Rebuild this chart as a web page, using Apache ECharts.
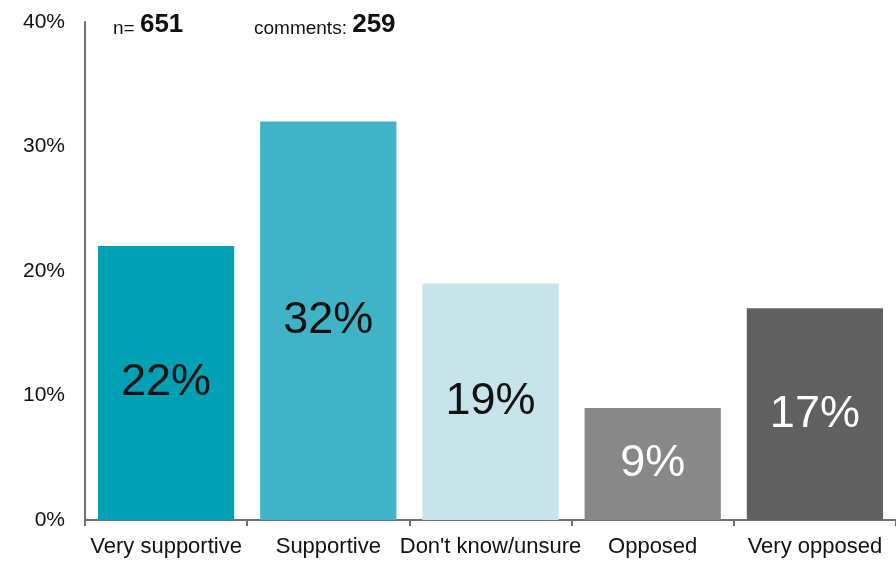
<!DOCTYPE html>
<html>
<head>
<meta charset="utf-8">
<script src="https://cdn.jsdelivr.net/npm/echarts@6/dist/echarts.min.js"></script>
<style>
  html, body { margin: 0; padding: 0; background: #fff; }
  #chart { width: 896px; height: 566px; }
</style>
</head>
<body>
<div id="chart"></div>
<script>
// Survey responses: share of respondents per answer
const categories = ['Very supportive', 'Supportive', "Don't know/unsure", 'Opposed', 'Very opposed'];
const shares = [22, 32, 19, 9, 17];
const barColors = ['#00a0b4', '#40b4c6', '#c6e4ea', '#888888', '#606060'];
const labelColors = ['#111111', '#111111', '#111111', '#ffffff', '#ffffff'];
const yTicks = [0, 10, 20, 30, 40];
const sampleSize = 651;
const commentCount = 259;

const font = '"Liberation Sans", Arial, Helvetica, sans-serif';
const chart = echarts.init(document.getElementById('chart'));

const headRich = {
  a: { fontSize: 19, fontWeight: 'normal', color: '#111', fontFamily: font, verticalAlign: 'bottom' },
  b: { fontSize: 26, fontWeight: 'bold', color: '#111', fontFamily: font, verticalAlign: 'bottom' }
};

chart.setOption({
  animation: false,
  textStyle: { fontFamily: font },
  grid: { left: 85, right: 0, top: 22, bottom: 46, containLabel: false },
  title: [
    {
      left: 108, top: 7,
      text: '{a|n= }{b|' + sampleSize + '}',
      textStyle: { fontWeight: 'normal', rich: headRich }
    },
    {
      left: 249, top: 7,
      text: '{a|comments: }{b|' + commentCount + '}',
      textStyle: { fontWeight: 'normal', rich: headRich }
    }
  ],
  xAxis: {
    type: 'category',
    data: categories,
    axisLine: { show: true, lineStyle: { color: '#707070', width: 2 } },
    axisTick: { show: true, length: 6, lineStyle: { color: '#707070', width: 2 } },
    axisLabel: { color: '#111', fontSize: 22, margin: 16, interval: 0, fontFamily: font }
  },
  yAxis: {
    type: 'value',
    min: yTicks[0],
    max: yTicks[yTicks.length - 1],
    interval: 10,
    splitLine: { show: false },
    axisLine: { show: true, lineStyle: { color: '#707070', width: 2 } },
    axisTick: { show: false },
    axisLabel: { color: '#111', fontSize: 21, margin: 20, formatter: v => v + '%', fontFamily: font }
  },
  series: [{
    type: 'bar',
    barCategoryGap: '16%',
    data: shares.map((v, i) => ({
      value: v,
      itemStyle: { color: barColors[i] },
      label: { color: labelColors[i] }
    })),
    label: {
      show: true,
      position: 'inside',
      fontSize: 45,
      fontFamily: font,
      formatter: p => p.value + '%'
    }
  }]
});
</script>
</body>
</html>
